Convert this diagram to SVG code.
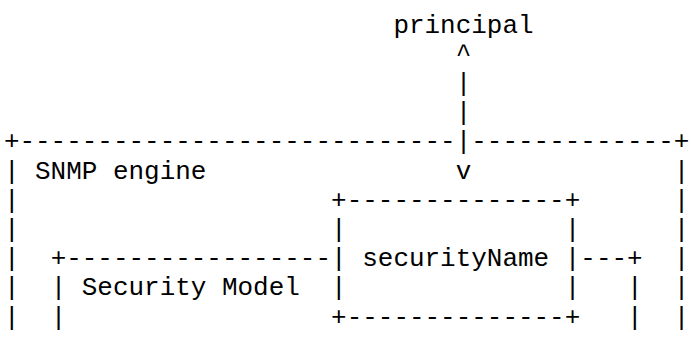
<svg xmlns="http://www.w3.org/2000/svg" width="691" height="338" viewBox="0 0 691 338">
<style>
.t{font-family:"Liberation Mono","Courier New",monospace;font-size:25.96px;white-space:pre;fill:#000}
</style>
<rect x="0" y="0" width="691" height="338" fill="#fff"/>
<g id="principal"><text class="t" x="393.4" y="32.5">principal</text></g>
<g id="snmp-engine">
<text class="t" x="3.9" y="149.3">+----------------------------</text>
<text class="t" x="471.3" y="149.3">-------------+</text>
<text class="t" x="3.9" y="178.5">| SNMP engine</text>
<text class="t" x="673.84" y="178.5">|</text>
<text class="t" x="3.9" y="207.7">|</text><text class="t" x="673.84" y="207.7">|</text>
<text class="t" x="3.9" y="236.9">|</text><text class="t" x="673.84" y="236.9">|</text>
<text class="t" x="3.9" y="266.1">|</text><text class="t" x="673.84" y="266.1">|</text>
<text class="t" x="3.9" y="295.3">|</text><text class="t" x="673.84" y="295.3">|</text>
<text class="t" x="3.9" y="324.5">|</text><text class="t" x="673.84" y="324.5">|</text>
</g>
<g id="security-model">
<text class="t" x="50.64" y="266.1">+-----------------</text>
<text class="t" x="50.64" y="295.3">| Security Model</text>
<text class="t" x="50.64" y="324.5">|</text>
</g>
<g id="securityName">
<text class="t" x="331.08" y="207.7">+--------------+</text>
<text class="t" x="331.08" y="236.9">|              |</text>
<text class="t" x="331.08" y="266.1">| securityName |</text>
<text class="t" x="331.08" y="295.3">|              |</text>
<text class="t" x="331.08" y="324.5">+--------------+</text>
</g>
<g id="connectors">
<text class="t" x="455.72" y="61.7">^</text>
<text class="t" x="455.72" y="90.9">|</text>
<text class="t" x="455.72" y="120.1">|</text>
<text class="t" x="455.72" y="149.3">|</text>
<text class="t" x="455.72" y="178.5">v</text>
<text class="t" x="580.36" y="266.1">---+</text>
<text class="t" x="627.1" y="295.3">|</text>
<text class="t" x="627.1" y="324.5">|</text>
</g>
</svg>
